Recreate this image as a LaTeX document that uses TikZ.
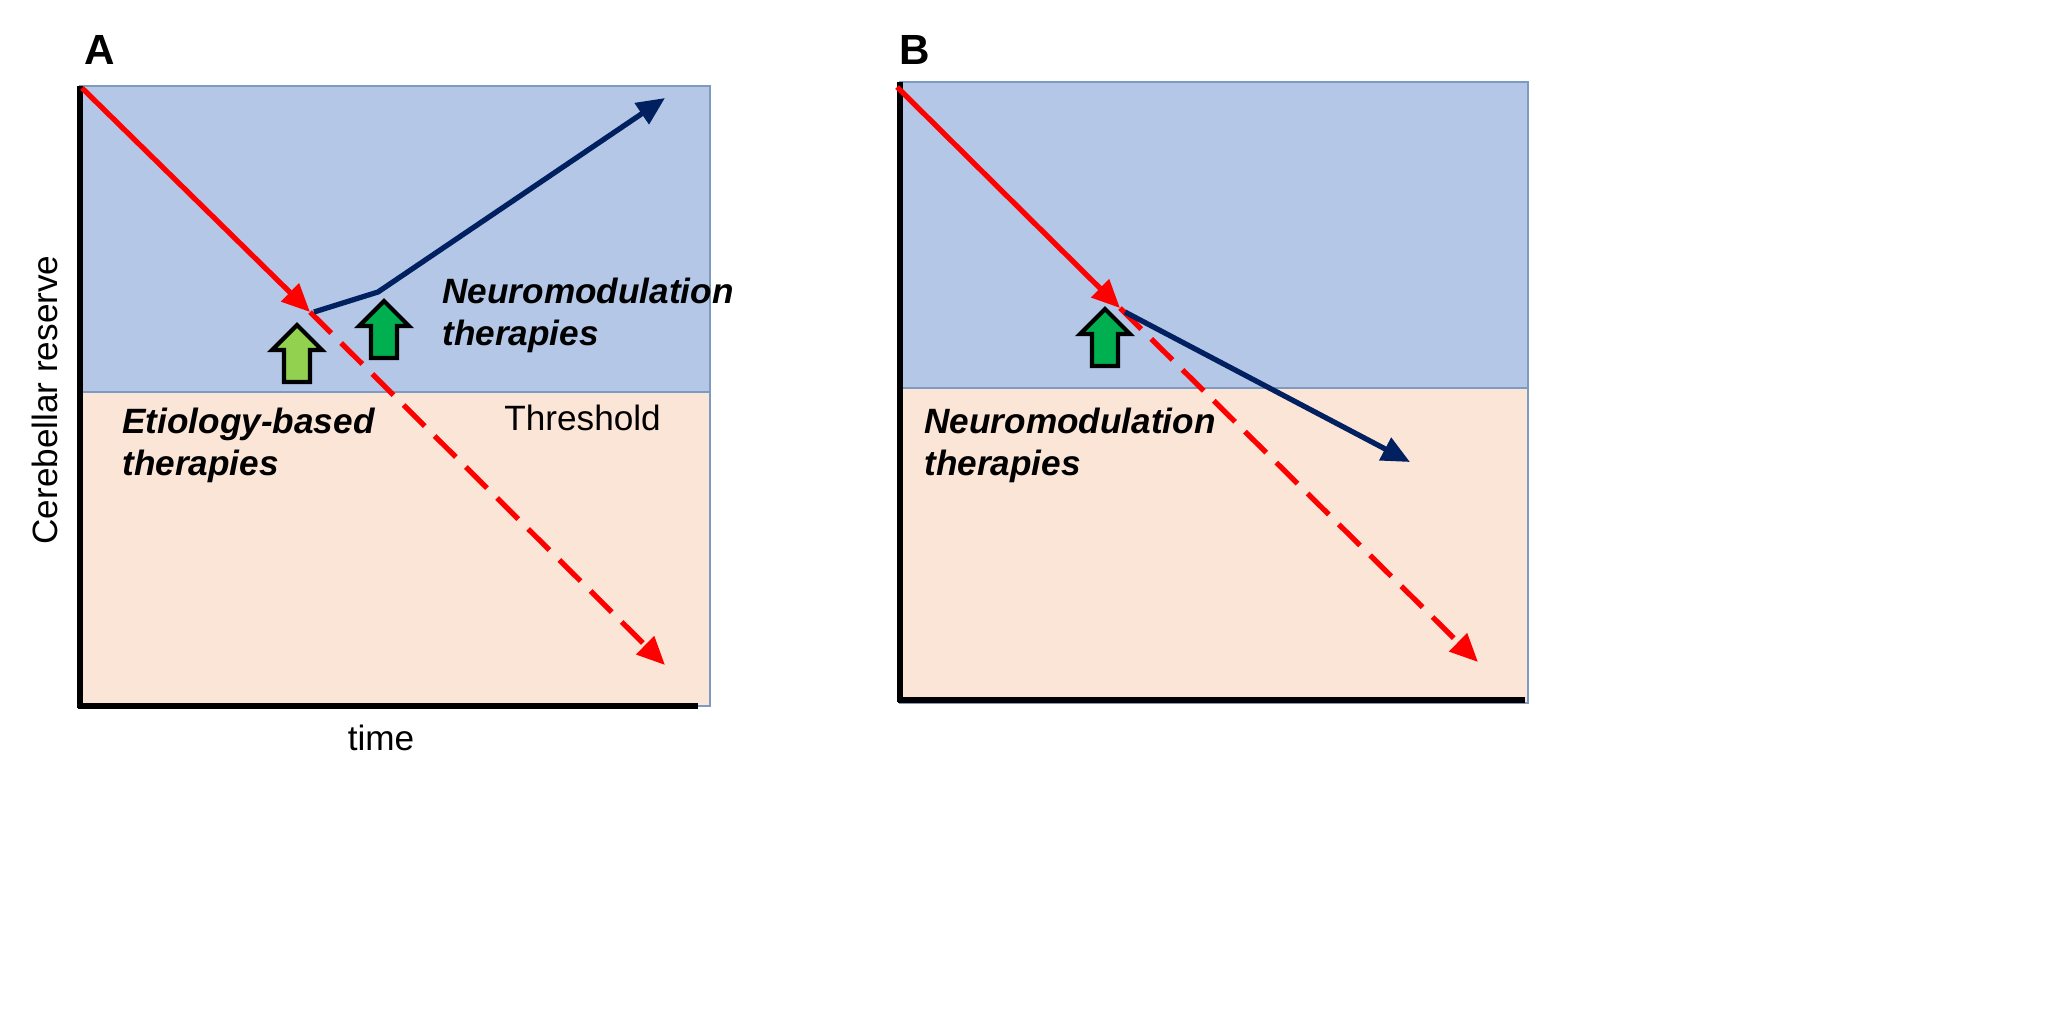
\documentclass[tikz,border=0pt]{standalone}
\usepackage{fontspec}
\setmainfont{Liberation Sans}
\usetikzlibrary{arrows.meta}
\definecolor{sky}{HTML}{B4C7E7}
\definecolor{peach}{HTML}{FBE5D6}
\definecolor{navy}{HTML}{002060}
\definecolor{lgreen}{HTML}{92D050}
\definecolor{dgreen}{HTML}{00B050}
\definecolor{frame}{HTML}{7F9AC0}
\tikzset{
  decline/.style={red, line width=1.5pt, -{Triangle[length=8pt,width=7pt]}},
  gain/.style={navy, line width=1.5pt, -{Triangle[length=8pt,width=7pt]}},
  broken/.style={dash pattern=on 8.5pt off 4pt},
  axis/.style={black, line width=1.6pt},
  boost/.style={draw=black, line width=1.2pt, line join=miter},
  label/.style={font=\bfseries\itshape\fontsize{10}{12}\selectfont, anchor=west, align=left}
}
% block arrow pointing up, base centre at #1
\newcommand\boostarrow[2]{%
  \draw[boost, fill=#2] (#1) ++(-13,0) -- ++(0,-32) -- ++(-12,0) -- ++(25,-25)
    -- ++(25,25) -- ++(-12,0) -- ++(0,32) -- cycle;}
\begin{document}
\begin{tikzpicture}[x=0.01cm, y=-0.01cm]
\useasboundingbox (0,0) rectangle (2068,1020);

% panel A
\fill[sky] (80,86) rectangle (710,392);
\fill[peach] (80,392) rectangle (710,706);
\draw[frame, thin] (80,86) rectangle (710,706);
\draw[frame, thin] (80,392) -- (710,392);
\draw[axis] (80,86) -- (80,708);
\draw[axis] (78,706) -- (698,706);
\node[font=\bfseries\fontsize{12}{14}\selectfont] (labelA) at (100,50) {A};

\coordinate (a0) at (82,88);
\coordinate (a1) at (310,312);
\coordinate (a2) at (665,665);
\coordinate (b0) at (314,312);
\coordinate (b1) at (378,292);
\coordinate (b2) at (665,98);
\draw[decline] (a0) -- (a1);
\draw[decline, broken] (a1) -- (a2);
\draw[gain] (b0) -- (b1) -- (b2);

\coordinate (etioUp) at (297,382);
\coordinate (neuroUpA) at (384,358);
\boostarrow{etioUp}{lgreen}
\boostarrow{neuroUpA}{dgreen}

\node[label] (neuroA) at (430,315) {Neuromodulation\\therapies};
\node[label] (etio) at (110,445) {Etiology-based\\therapies};
\node[anchor=west, font=\fontsize{10}{12}\selectfont] (thrA) at (492,418) {Threshold};
\node[rotate=90, font=\fontsize{10}{12}\selectfont] (ylab) at (45,400) {Cerebellar reserve};
\node[font=\fontsize{10}{12}\selectfont] (xlab) at (381,738) {time};

% panel B
\fill[sky] (900,82) rectangle (1528,388);
\fill[peach] (900,388) rectangle (1528,703);
\draw[frame, thin] (900,82) rectangle (1528,703);
\draw[frame, thin] (900,388) -- (1528,388);
\draw[axis] (900,82) -- (900,702);
\draw[axis] (898,700) -- (1525,700);
\node[font=\bfseries\fontsize{12}{14}\selectfont] (labelB) at (915,50) {B};

\coordinate (c0) at (897,87);
\coordinate (c1) at (1120,308);
\coordinate (c2) at (1478,662);
\coordinate (d0) at (1125,312);
\coordinate (d1) at (1410,462);
\draw[decline] (c0) -- (c1);
\draw[decline, broken] (c1) -- (c2);
\draw[gain] (d0) -- (d1);

\coordinate (neuroUpB) at (1105,366);
\boostarrow{neuroUpB}{dgreen}
\node[label] (neuroB) at (912,445) {Neuromodulation\\therapies};
\end{tikzpicture}
\end{document}
